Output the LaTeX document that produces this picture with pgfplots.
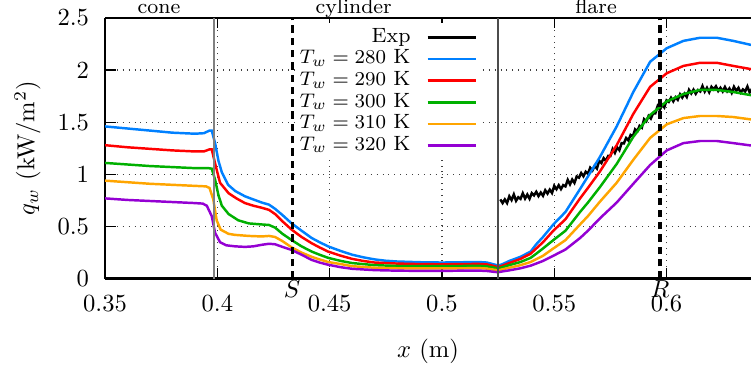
\documentclass[border=0pt]{standalone}
\usepackage{pgfplots}
\pgfplotsset{compat=1.18}
\definecolor{c280}{RGB}{0,128,255}
\definecolor{c290}{RGB}{255,0,0}
\definecolor{c300}{RGB}{0,176,0}
\definecolor{c310}{RGB}{255,165,0}
\definecolor{c320}{RGB}{148,0,211}
\begin{document}
\begin{tikzpicture}
\begin{axis}[
  scale only axis, width=262.6pt, height=106pt,
  xmin=0.35, xmax=0.6376, ymin=0, ymax=2.5,
  xtick={0.35,0.4,0.45,0.5,0.55,0.6},
  ytick={0,0.5,1,1.5,2,2.5},
  separate axis lines,
  axis x line*=box, axis y line*=left,
  axis line style={line width=1pt},
  tick style={black, line width=0.6pt},
  tick align=inside,
  grid=major, grid style={dotted, black!75, line width=0.5pt},
  xticklabel style={yshift=-3.5pt},
  yticklabel style={xshift=-3pt},
  xlabel={$x$ (m)}, ylabel={$q_w$ (kW/m$^2$)},
  xlabel style={yshift=-4pt},
  legend cell align=right, legend plot pos=right,
  legend image code/.code={\draw[#1] (0cm,0cm) -- (0.69cm,0cm);},
  legend style={at={(rel axis cs:0.5826,0.984)}, anchor=north east, draw=none, fill=white,
    inner sep=1.5pt, font=\fontsize{8.4}{9}\selectfont, row sep=-0.2pt, column sep=6pt,
    nodes={inner sep=0.5pt, text height=6pt, text depth=2pt}},
  clip=true,
  every axis plot/.append style={line width=1pt},
]
\addplot[black, line width=1pt] coordinates {
(0.526,0.760)(0.527,0.725)(0.528,0.760)(0.529,0.725)(0.530,0.790)(0.531,0.754)(0.532,0.808)(0.533,0.747)(0.534,0.781)(0.535,0.765)
(0.536,0.819)(0.537,0.768)(0.538,0.807)(0.539,0.766)(0.540,0.820)(0.541,0.799)(0.542,0.833)(0.543,0.792)(0.544,0.826)(0.545,0.795)
(0.546,0.848)(0.547,0.816)(0.548,0.854)(0.549,0.822)(0.550,0.890)(0.551,0.858)(0.552,0.896)(0.553,0.859)(0.554,0.897)(0.555,0.885)
(0.556,0.947)(0.557,0.904)(0.558,0.951)(0.559,0.918)(0.560,0.980)(0.561,0.969)(0.562,1.013)(0.563,0.982)(0.564,1.026)(0.565,1.005)
(0.566,1.064)(0.567,1.038)(0.568,1.082)(0.569,1.056)(0.570,1.130)(0.571,1.108)(0.572,1.156)(0.573,1.129)(0.574,1.177)(0.575,1.175)
(0.576,1.243)(0.577,1.206)(0.578,1.259)(0.579,1.232)(0.580,1.300)(0.581,1.297)(0.582,1.349)(0.583,1.326)(0.584,1.378)(0.585,1.365)
(0.586,1.432)(0.587,1.414)(0.588,1.466)(0.589,1.448)(0.590,1.530)(0.591,1.510)(0.592,1.560)(0.593,1.535)(0.594,1.585)(0.595,1.585)
(0.596,1.653)(0.597,1.616)(0.598,1.669)(0.599,1.642)(0.600,1.710)(0.601,1.695)(0.602,1.735)(0.603,1.700)(0.604,1.740)(0.605,1.715)
(0.606,1.768)(0.607,1.736)(0.608,1.774)(0.609,1.742)(0.610,1.810)(0.611,1.776)(0.612,1.812)(0.613,1.773)(0.614,1.809)(0.615,1.795)
(0.616,1.847)(0.617,1.794)(0.618,1.831)(0.619,1.788)(0.620,1.840)(0.621,1.815)(0.622,1.845)(0.623,1.800)(0.624,1.830)(0.625,1.795)
(0.626,1.838)(0.627,1.796)(0.628,1.824)(0.629,1.782)(0.630,1.840)(0.631,1.800)(0.632,1.830)(0.633,1.785)(0.634,1.815)(0.635,1.795)
(0.636,1.843)(0.637,1.786)(0.638,1.819)(0.639,1.772)(0.640,1.822)
};
\addlegendentry{Exp}
\addplot[c280] coordinates {
(0.35,1.46)(0.36,1.44)(0.37,1.42)(0.38,1.40)(0.39,1.39)(0.394,1.395)(0.3965,1.42)(0.3975,1.42)(0.399,1.30)(0.4005,1.13)
(0.402,1.02)(0.4048,0.90)(0.408,0.84)(0.4123,0.79)(0.416,0.76)(0.4198,0.73)(0.423,0.71)(0.4257,0.67)(0.429,0.61)(0.4331,0.53)
(0.4375,0.46)(0.442,0.39)(0.4455,0.35)(0.4493,0.31)(0.455,0.265)(0.46,0.23)(0.465,0.205)(0.47,0.185)(0.475,0.172)(0.48,0.165)
(0.49,0.158)(0.50,0.155)(0.51,0.158)(0.516,0.16)(0.52,0.155)(0.5235,0.135)(0.525,0.125)(0.527,0.14)(0.53,0.17)(0.535,0.21)
(0.5395,0.26)(0.542,0.33)(0.545,0.40)(0.5496,0.52)(0.555,0.64)(0.5615,0.86)(0.565,0.98)(0.5704,1.17)(0.5778,1.46)(0.5852,1.79)
(0.5927,2.08)(0.6001,2.21)(0.6075,2.28)(0.6149,2.31)(0.6224,2.31)(0.6297,2.28)(0.64,2.23)
};
\addlegendentry{$T_w = 280$ K}
\addplot[c290] coordinates {
(0.35,1.28)(0.36,1.26)(0.37,1.245)(0.38,1.23)(0.39,1.22)(0.394,1.22)(0.3965,1.24)(0.3975,1.24)(0.3993,1.08)(0.4012,0.92)
(0.405,0.82)(0.4085,0.77)(0.4123,0.725)(0.416,0.70)(0.4198,0.68)(0.423,0.66)(0.4257,0.62)(0.429,0.55)(0.4331,0.47)(0.4375,0.40)
(0.442,0.34)(0.4455,0.30)(0.4493,0.26)(0.455,0.22)(0.46,0.19)(0.465,0.17)(0.47,0.155)(0.48,0.145)(0.49,0.14)(0.50,0.138)
(0.51,0.14)(0.516,0.142)(0.52,0.137)(0.5235,0.12)(0.525,0.11)(0.527,0.125)(0.53,0.15)(0.535,0.19)(0.5395,0.24)(0.542,0.29)
(0.545,0.35)(0.5496,0.46)(0.555,0.57)(0.5615,0.77)(0.565,0.87)(0.5704,1.03)(0.5778,1.28)(0.5852,1.58)(0.5927,1.84)(0.6001,1.97)
(0.6075,2.04)(0.6149,2.07)(0.6224,2.07)(0.6297,2.04)(0.64,2.00)
};
\addlegendentry{$T_w = 290$ K}
\addplot[c300] coordinates {
(0.35,1.11)(0.36,1.095)(0.37,1.08)(0.38,1.07)(0.39,1.06)(0.396,1.06)(0.3975,1.055)(0.399,0.95)(0.4005,0.80)(0.402,0.70)
(0.405,0.62)(0.4093,0.56)(0.414,0.53)(0.4198,0.52)(0.423,0.515)(0.4257,0.49)(0.429,0.43)(0.4331,0.37)(0.4375,0.31)(0.442,0.26)
(0.4455,0.23)(0.4493,0.20)(0.455,0.17)(0.46,0.15)(0.47,0.13)(0.48,0.122)(0.49,0.12)(0.50,0.12)(0.51,0.122)(0.516,0.124)
(0.52,0.118)(0.5235,0.105)(0.525,0.098)(0.527,0.11)(0.53,0.13)(0.535,0.16)(0.5395,0.20)(0.542,0.24)(0.545,0.29)(0.5496,0.37)
(0.555,0.46)(0.5615,0.64)(0.565,0.73)(0.5704,0.88)(0.5778,1.10)(0.5852,1.36)(0.5927,1.57)(0.6001,1.70)(0.6075,1.77)(0.6149,1.81)
(0.6224,1.81)(0.6297,1.79)(0.64,1.75)
};
\addlegendentry{$T_w = 300$ K}
\addplot[c310] coordinates {
(0.35,0.94)(0.36,0.925)(0.37,0.91)(0.38,0.90)(0.39,0.89)(0.395,0.885)(0.3965,0.87)(0.3982,0.76)(0.3997,0.56)(0.4015,0.47)
(0.405,0.43)(0.4079,0.42)(0.414,0.41)(0.4198,0.405)(0.423,0.41)(0.4257,0.40)(0.429,0.36)(0.4331,0.30)(0.4375,0.25)(0.442,0.21)
(0.4455,0.185)(0.4493,0.16)(0.455,0.14)(0.46,0.12)(0.47,0.105)(0.48,0.10)(0.49,0.098)(0.50,0.098)(0.51,0.10)(0.516,0.102)
(0.52,0.097)(0.5235,0.085)(0.525,0.08)(0.527,0.09)(0.53,0.105)(0.535,0.13)(0.5395,0.16)(0.545,0.22)(0.5496,0.29)(0.555,0.37)
(0.5615,0.52)(0.565,0.60)(0.5704,0.74)(0.5778,0.92)(0.5852,1.14)(0.5927,1.35)(0.6001,1.48)(0.6075,1.54)(0.6149,1.56)(0.6224,1.56)
(0.6297,1.55)(0.64,1.52)
};
\addlegendentry{$T_w = 310$ K}
\addplot[c320] coordinates {
(0.35,0.77)(0.36,0.755)(0.37,0.745)(0.38,0.735)(0.39,0.725)(0.3935,0.72)(0.3953,0.70)(0.3975,0.60)(0.399,0.44)(0.4012,0.35)
(0.404,0.32)(0.408,0.31)(0.4123,0.305)(0.416,0.31)(0.4198,0.325)(0.423,0.335)(0.4257,0.33)(0.429,0.305)(0.4331,0.275)(0.4375,0.23)
(0.442,0.18)(0.4455,0.155)(0.4493,0.134)(0.455,0.11)(0.46,0.095)(0.47,0.082)(0.48,0.077)(0.49,0.075)(0.50,0.075)(0.51,0.077)
(0.516,0.078)(0.52,0.074)(0.5235,0.065)(0.525,0.062)(0.527,0.07)(0.53,0.08)(0.535,0.10)(0.5395,0.125)(0.545,0.17)(0.5496,0.22)
(0.555,0.28)(0.5615,0.39)(0.565,0.46)(0.5704,0.58)(0.5778,0.73)(0.5852,0.91)(0.5927,1.09)(0.6001,1.23)(0.6075,1.30)(0.6149,1.32)
(0.6224,1.32)(0.6297,1.30)(0.64,1.27)
};
\addlegendentry{$T_w = 320$ K}
% reference lines
\draw[gray, line width=0.9pt] (axis cs:0.3985,0) -- (axis cs:0.3985,2.5);
\draw[black!70, line width=0.5pt] (axis cs:0.525,0) -- (axis cs:0.525,2.5);
\draw[black, line width=1.3pt, dash pattern=on 3pt off 2pt] (axis cs:0.4333,0) -- (axis cs:0.4333,2.5);
\draw[black, line width=1.3pt, dash pattern=on 3pt off 2pt] (axis cs:0.5971,0) -- (axis cs:0.5971,2.5);
\coordinate (SW) at (rel axis cs:0,0);
\coordinate (NE) at (rel axis cs:1,1);
\coordinate (Lcone) at (axis cs:0.374,2.5);
\coordinate (Lcyl) at (axis cs:0.4607,2.5);
\coordinate (Lflare) at (axis cs:0.5686,2.5);
\coordinate (LS) at (axis cs:0.4333,0);
\coordinate (LR) at (axis cs:0.5971,0);
\end{axis}
\begin{scope}[every node/.style={font=\fontsize{8.4}{10}\selectfont, anchor=base, yshift=2pt}]
\node at (Lcone) {cone};
\node at (Lcyl) {cylinder};
\node at (Lflare) {flare};
\end{scope}
\node[anchor=north, inner sep=0.5pt] at (LS) {$S$};
\node[anchor=north, inner sep=0.5pt] at (LR) {$R$};
\pgfresetboundingbox
\path ([xshift=-42.7pt,yshift=-35.4pt]SW) rectangle ([yshift=7.3pt]NE);
\end{tikzpicture}
\end{document}
